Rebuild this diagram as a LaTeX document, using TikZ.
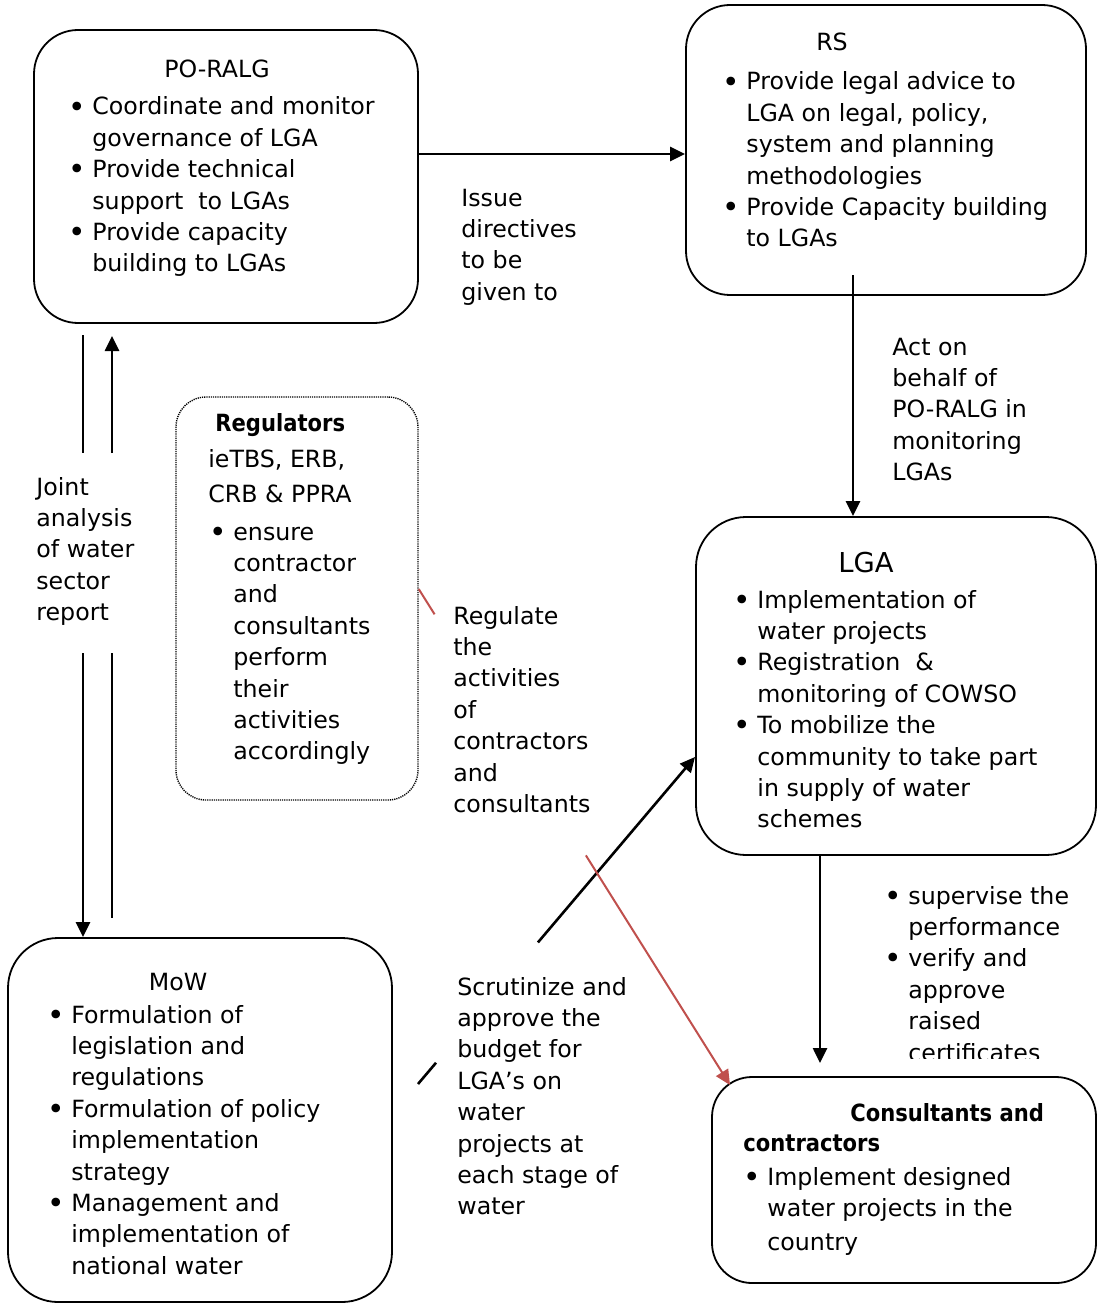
\documentclass[tikz,border=0pt]{standalone}
\usepackage{fontspec}
\usepackage{graphicx}
\setmainfont{DejaVu Sans}
\usetikzlibrary{arrows.meta,fit,calc}
\definecolor{redl}{RGB}{192,80,77}
\newcommand{\B}{\makebox[12pt][l]{\raisebox{-0.09em}{\scalebox{1.25}{\textbullet}}}}
\newcommand{\N}{\hspace*{12pt}}
\newcommand{\tb}[1]{\begin{tabular}[t]{@{}l@{}}#1\end{tabular}}
\newcommand{\bb}[1]{\scalebox{0.89}[1]{\textbf{#1}}}
\tikzset{
  box/.style={draw, line width=0.9pt, rounded corners=22pt, inner sep=0pt},
  regbox/.style={draw, line width=0.7pt, dash pattern=on 0.6pt off 0.5pt, rounded corners=15pt, inner sep=0pt},
  txt/.style={inner sep=0pt, anchor=base west, font=\fontsize{11.85}{15.7}\selectfont},
  ttl/.style={inner sep=0pt, anchor=base, font=\fontsize{11.85}{15.7}\selectfont},
  conn/.style={line width=1.3pt},
  arr/.style={conn, -{Triangle[length=7.5pt,width=7pt]}},
  rconn/.style={line width=1pt, draw=redl},
  rarr/.style={rconn, -{Triangle[length=7.5pt,width=7pt,fill=redl]}}
}
\begin{document}
\begin{tikzpicture}[x=0.5pt,y=-0.5pt]
\useasboundingbox (0,0) rectangle (1097,1305);
\fill[white] (0,0) rectangle (1097,1305);
\clip (0,0) rectangle (1097,1305);

% boxes
\node[box, fit={(34,30) (418,323)}] (po) {};
\node[box, fit={(686,5) (1086,295)}] (rs) {};
\node[regbox, fit={(176,397) (418,800)}] (reg) {};
\node[box, rounded corners=25pt, fit={(696,517) (1096,855)}] (lga) {};
\node[box, rounded corners=20pt, fit={(712,1077) (1096,1283)}] (cons) {};
\node[box, rounded corners=25pt, fit={(8,938) (392,1302)}] (mow) {};

% texts
\node[ttl] (poT) at (217,78) {PO-RALG};
\node[txt] (poL) at (68,115) {\tb{\B Coordinate and monitor\\ \N governance of LGA\\ \B Provide technical\\ \N support\ \ to LGAs\\ \B Provide capacity\\ \N building to LGAs}};
\node[txt] (issue) at (461,206) {\tb{Issue\\directives\\to be\\given to}};
\node[ttl] (rsT) at (832,51) {RS};
\node[txt] (rsL) at (722,90) {\tb{\B Provide legal advice to\\ \N LGA on legal, policy,\\ \N system and planning\\ \N methodologies\\ \B Provide Capacity building\\ \N to LGAs}};
\node[txt] (act) at (892,355) {\tb{Act on\\behalf of\\PO-RALG in\\monitoring\\LGAs}};
\node[txt] (joint) at (36,495) {\tb{Joint\\analysis\\of water\\sector\\report}};
\node[txt] (regT) at (215,431) {\bb{Regulators}};
\node[txt] (regS) at (208,467) {\tb{ieTBS, ERB,\\[2pt] CRB \& PPRA}};
\node[txt] (regL) at (209,540) {\tb{\B ensure\\ \N contractor\\ \N and\\ \N consultants\\ \N perform\\ \N their\\ \N activities\\ \N accordingly}};
\node[txt] (regul) at (453,624) {\tb{Regulate\\the\\activities\\of\\contractors\\and\\consultants}};
\node[ttl, font=\fontsize{13.7}{16}\selectfont] (lgaT) at (866,572) {LGA};
\node[txt] (lgaL) at (733,608) {\tb{\B Implementation of\\ \N water projects\\ \B Registration\ \ \&\\ \N monitoring of COWSO\\ \B To mobilize the\\ \N community to take part\\ \N in supply of water\\ \N schemes}};
\begin{scope}
\clip (870,865) rectangle (1097,1058);
\node[txt] (sup) at (884,904) {\tb{\B supervise the\\ \N performance\\ \B verify and\\ \N approve\\ \N raised\\ \N certificates}};
\end{scope}
\node[txt] (consT1) at (850,1121) {\bb{Consultants and}};
\node[txt] (consT2) at (743,1151) {\bb{contractors}};
\node[txt] (consL) at (743,1185) {\tb{\B Implement designed\\ \N water projects in the\\[1.5pt] \N country}};
\node[ttl] (mowT) at (178,990) {MoW};
\node[txt] (mowL) at (47,1023) {\tb{\B Formulation of\\ \N legislation and\\ \N regulations\\ \B Formulation of policy\\ \N implementation\\ \N strategy\\ \B Management and\\ \N implementation of\\ \N national water}};
\node[txt] (scr) at (457,995) {\tb{Scrutinize and\\approve the\\budget for\\LGA’s on\\water\\projects at\\each stage of\\water}};

% connectors
\coordinate (y154) at (0,154);
\draw[arr] (po.east |- y154) -- (rs.west |- y154);

\coordinate (x853) at (853,275);
\draw[arr] (x853) -- (x853 |- lga.north);

\coordinate (c1) at (820,858);
\coordinate (c2) at (820,1063);
\draw[arr] (c1 |- lga.south) -- (c2);

\coordinate (L1) at (83,335);
\coordinate (L2) at (83,453);
\coordinate (L3) at (83,653);
\draw[conn] (L1) -- (L2);
\draw[arr] (L3) -- (L3 |- mow.north);

\coordinate (R1) at (112,336);
\coordinate (R2) at (112,453);
\coordinate (R3) at (112,653);
\coordinate (R4) at (112,918);
\draw[arr] (R2) -- (R1);
\draw[conn] (R3) -- (R4);

\coordinate (bA) at (418,1084);
\coordinate (bB) at (695,757);
\draw[conn] (bA) -- ($(bA)!0.065!(bB)$);
\draw[arr] ($(bA)!0.433!(bB)$) -- (bB);

\coordinate (y589) at (0,589);
\coordinate (rA) at (reg.east |- y589);
\coordinate (rB) at (730,1085);
\draw[rconn] (rA) -- ($(rA)!0.051!(rB)$);
\draw[rarr] ($(rA)!0.537!(rB)$) -- (rB);
\end{tikzpicture}
\end{document}
